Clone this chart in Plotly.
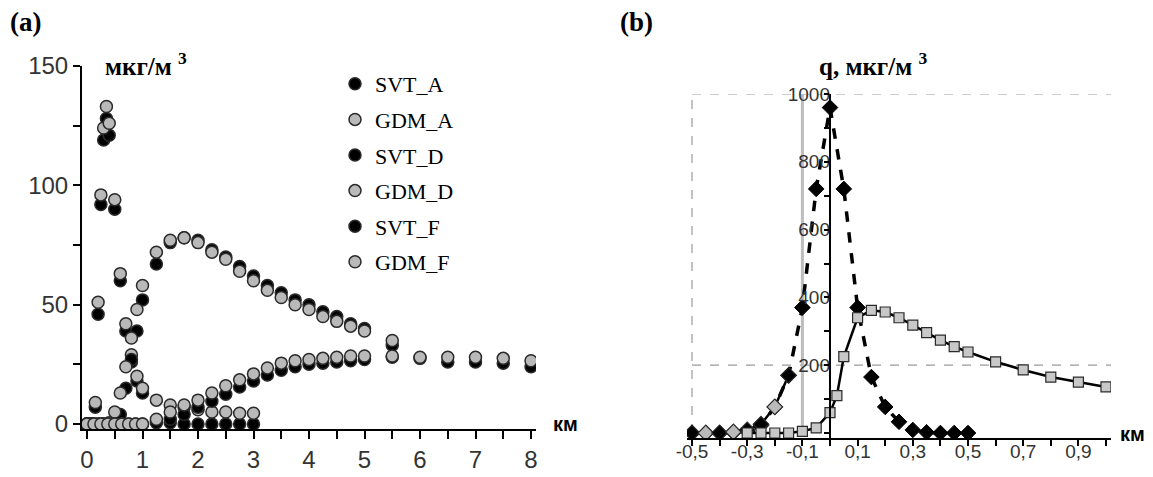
import plotly.graph_objects as go

# ---------------- Panel (a) data ----------------
x_A = [0, 0.05, 0.1, 0.15, 0.2, 0.25, 0.3, 0.35, 0.4, 0.5, 0.6, 0.7, 0.8, 0.9, 1.0,
       1.25, 1.5, 1.75, 2.0, 2.25, 2.5, 2.75, 3.0]
svt_A = [0, 0, 0, 7, 46, 92, 119, 128, 121, 90, 60, 39, 26, 18, 13,
         1, 0.5, 0, 0, 0, 0, 0, 0]
gdm_A = [0, 0, 0, 9, 51, 96, 124, 133, 126, 94, 63, 42, 29, 20, 15,
         10, 8, 7, 6, 5, 5, 4.5, 4.5]

x_D = [0, 0.1, 0.2, 0.3, 0.4, 0.5, 0.6, 0.7, 0.8, 0.9, 1.0, 1.25, 1.5, 1.75, 2.0,
       2.25, 2.5, 2.75, 3.0, 3.25, 3.5, 3.75, 4.0, 4.25, 4.5, 4.75, 5.0, 5.5]
svt_D = [0, 0, 0, 0, 0, 0.5, 4, 15, 27, 39, 52, 67, 76, 78, 77,
         73, 70, 66, 62, 58, 55, 52, 50, 47, 45, 42, 40, 33]
gdm_D = [0, 0, 0, 0, 0.5, 5, 13, 24, 36, 48, 58, 72, 77, 78, 76,
         72, 69, 64, 60, 56, 53, 50, 48, 45, 43, 41, 39, 35]

x_F = [0, 0.125, 0.25, 0.375, 0.5, 0.625, 0.75, 0.875, 1.0, 1.25, 1.5, 1.75, 2.0,
       2.25, 2.5, 2.75, 3.0, 3.25, 3.5, 3.75, 4.0, 4.25, 4.5, 4.75, 5.0,
       5.5, 6.0, 6.5, 7.0, 7.5, 8.0]
svt_F = [0, 0, 0, 0, 0, 0, 0, 0, 0, 0.5, 2, 4, 7,
         9.5, 12.5, 15.5, 18, 20.5, 22.5, 24, 25, 25.5, 26, 26.5, 27,
         28, 27.5, 26, 26, 25.5, 24]
gdm_F = [0, 0, 0, 0, 0, 0, 0, 0, 0, 2, 5, 8, 10,
         13, 16, 18.5, 21, 23.5, 25.5, 26.5, 27, 27.5, 28, 28.5, 28.5,
         28.5, 28, 28, 28, 27.5, 26.5]

series_a = [
    ("SVT_A", x_A, svt_A, "black"),
    ("GDM_A", x_A, gdm_A, "gray"),
    ("SVT_D", x_D, svt_D, "black"),
    ("GDM_D", x_D, gdm_D, "gray"),
    ("SVT_F", x_F, svt_F, "black"),
    ("GDM_F", x_F, gdm_F, "gray"),
]

xa_labels = {0: "0", 1: "1", 2: "2", 3: "3", 4: "4", 5: "5", 6: "6", 7: "7", 8: "8"}
ya_labels = {0: "0", 50: "50", 100: "100", 150: "150"}

# ---------------- Panel (b) data ----------------
xb_svt = [-0.5, -0.45, -0.4, -0.35, -0.3, -0.25, -0.2, -0.15, -0.1, -0.05, 0,
          0.05, 0.1, 0.15, 0.2, 0.25, 0.3, 0.35, 0.4, 0.45, 0.5]
qb_svt = [0, 0, 0, 2, 6, 22, 77, 170, 370, 720, 960,
          720, 370, 165, 77, 33, 9, 2, 0, 0, 0]

xb_left = [-0.5, -0.45, -0.4, -0.35, -0.3, -0.25, -0.2, -0.15]
qb_left = [0, 0, 0, 3, 9, 26, 77, 170]
left_is_gray = [False, True, False, True, False, False, True, False]

xb_gdm = [-0.3, -0.25, -0.2, -0.15, -0.1, -0.05, 0, 0.025, 0.05, 0.1, 0.15, 0.2,
          0.25, 0.3, 0.35, 0.4, 0.45, 0.5, 0.6, 0.7, 0.8, 0.9, 1.0]
qb_gdm = [0, 0, 0, 0, 5, 15, 60, 110, 225, 340, 362, 357,
          340, 318, 296, 274, 255, 239, 210, 186, 165, 150, 136]

xb_labels = {-0.5: "-0,5", -0.3: "-0,3", -0.1: "-0,1", 0.1: "0,1",
             0.3: "0,3", 0.5: "0,5", 0.7: "0,7", 0.9: "0,9"}
yb_labels = {200: "200", 400: "400", 600: "600", 800: "800", 1000: "1000"}


def tick_positions(start, stop, step):
    n = int(round((stop - start) / step))
    return [round(start + i * step, 3) for i in range(n + 1)]


def tick_texts(vals, labels):
    out = []
    for v in vals:
        t = ""
        for k, s in labels.items():
            if abs(k - v) < 1e-6:
                t = s
        out.append(t)
    return out


xa_tv = tick_positions(0, 8, 0.5)
ya_tv = tick_positions(0, 150, 25)
xb_tv = tick_positions(-0.5, 1.0, 0.1)
yb_tv = tick_positions(0, 1000, 100)

# ---------------- Layout geometry (pixels) ----------------
W, H = 1153, 477
def px(xp): return xp / W
def py(yp): return 1 - yp / H

PAD = 5  # px of room around the data area so markers lying on the axes stay whole

# panel (a): x 0..8 over pixels 87..531, y 0..150 over pixels 424..66
A_X0, A_X1, A_Y0, A_Y1 = 87, 531, 424, 66
a_xs = 8 / (A_X1 - A_X0)
a_ys = 150 / (A_Y0 - A_Y1)
XA_RANGE = [0 - PAD * a_xs, 8 + PAD * a_xs]
YA_RANGE = [0 - PAD * a_ys, 150]
XA_DOM = [px(A_X0 - PAD), px(A_X1 + PAD)]
YA_DOM = [py(A_Y0 + PAD), py(A_Y1)]

# panel (b): x -0.5..1.0 over pixels 692..1106, q 0..1000 over pixels 433..94
B_X0, B_X1, B_Y0, B_Y1 = 692, 1106, 433, 94
b_xs = 1.5 / (B_X1 - B_X0)
b_ys = 1000 / (B_Y0 - B_Y1)
XB_RANGE = [-0.5 - PAD * b_xs, 1.0 + PAD * b_xs]
YB_RANGE = [0 - PAD * b_ys, 1000]
XB_DOM = [px(B_X0 - PAD), px(B_X1 + PAD)]
YB_DOM = [py(B_Y0 + PAD), py(B_Y1)]
B_YAXIS_X = 830  # pixel column of the q axis (x = 0)

GRAY = "#b9b9b9"
EDGE = "#2a2a2a"

fig = go.Figure()

for name, xs, ys, col in series_a:
    fill = "black" if col == "black" else GRAY
    fig.add_trace(go.Scatter(
        x=xs, y=ys, mode="markers", name=name,
        marker=dict(size=12, color=fill, symbol="circle",
                    line=dict(color=EDGE, width=1.5)),
        xaxis="x", yaxis="y", legendgroup=name,
    ))

fig.add_trace(go.Scatter(
    x=xb_svt, y=qb_svt, mode="lines+markers", showlegend=False,
    line=dict(color="black", width=3.5, dash="dash"),
    marker=dict(symbol="diamond", size=12, color="black", line=dict(color="black", width=1)),
    xaxis="x2", yaxis="y2",
))
fig.add_trace(go.Scatter(
    x=xb_left, y=qb_left, mode="lines+markers", showlegend=False,
    line=dict(color="black", width=2.5),
    marker=dict(symbol="diamond", size=12,
                color=[GRAY if g else "black" for g in left_is_gray],
                line=dict(color=EDGE, width=1.2)),
    xaxis="x2", yaxis="y2",
))
fig.add_trace(go.Scatter(
    x=xb_gdm, y=qb_gdm, mode="lines+markers", showlegend=False,
    line=dict(color="black", width=2.5),
    marker=dict(symbol="square", size=10, color="#c8c8c8", line=dict(color=EDGE, width=1.2)),
    xaxis="x4", yaxis="y4",
))

tickfont_a = dict(family="Liberation Sans, Arial, sans-serif", size=24, color="#333")
tickfont_b = dict(family="Liberation Sans, Arial, sans-serif", size=19, color="#333")

fig.update_layout(
    width=W, height=H, margin=dict(l=0, r=0, t=0, b=0, autoexpand=False),
    paper_bgcolor="white", plot_bgcolor="white",
    showlegend=True,
    legend=dict(x=px(335), y=py(63), xanchor="left", yanchor="top",
                font=dict(family="Liberation Serif, Times New Roman, serif", size=22, color="black"),
                bgcolor="rgba(0,0,0,0)", itemwidth=30, tracegroupgap=4),
    # panel (a): one axis pair carries line, ticks and labels
    xaxis=dict(domain=XA_DOM, range=XA_RANGE, anchor="y",
               tickmode="array", tickvals=xa_tv, ticktext=tick_texts(xa_tv, xa_labels),
               ticks="outside", ticklen=8, tickwidth=2, tickcolor="black",
               showline=True, linecolor="black", linewidth=2,
               showgrid=False, zeroline=False, tickfont=tickfont_a),
    yaxis=dict(domain=YA_DOM, range=YA_RANGE, anchor="x",
               tickmode="array", tickvals=ya_tv, ticktext=tick_texts(ya_tv, ya_labels),
               ticks="outside", ticklen=7, tickwidth=2, tickcolor="black",
               showline=True, linecolor="black", linewidth=2,
               showgrid=False, zeroline=False, tickfont=tickfont_a),
    # panel (b): base axes carry labels, overlay axes carry line and ticks
    xaxis2=dict(domain=XB_DOM, range=XB_RANGE, anchor="y2",
                tickmode="array", tickvals=list(xb_labels.keys()), ticktext=list(xb_labels.values()),
                ticks="", showline=False, showgrid=False, zeroline=False,
                tickfont=tickfont_b),
    yaxis2=dict(domain=YB_DOM, range=YB_RANGE, anchor="free", position=px(B_YAXIS_X),
                tickmode="array", tickvals=list(yb_labels.keys()), ticktext=list(yb_labels.values()),
                ticks="", showline=False, showgrid=False, zeroline=False,
                tickfont=tickfont_b),
    xaxis4=dict(overlaying="x2", anchor="y4", range=XB_RANGE,
                tickmode="array", tickvals=xb_tv, showticklabels=False,
                ticks="outside", ticklen=6, tickwidth=2, tickcolor="black",
                showline=True, linecolor="black", linewidth=2,
                showgrid=False, zeroline=False),
    yaxis4=dict(overlaying="y2", anchor="free", position=px(B_YAXIS_X), range=YB_RANGE,
                tickmode="array", tickvals=yb_tv, showticklabels=False,
                ticks="outside", ticklen=5, tickwidth=2, tickcolor="black",
                showline=True, linecolor="black", linewidth=2,
                showgrid=False, zeroline=False),
)

# gridlines of panel (b)
grid_dash = dict(color="#9a9a9a", width=1.2, dash="dash")
fig.add_shape(type="line", xref="x2", yref="y2", x0=-0.5, x1=-0.5, y0=0, y1=1000, line=grid_dash, layer="below")
fig.add_shape(type="line", xref="x2", yref="y2", x0=-0.5, x1=1.04, y0=1000, y1=1000, line=grid_dash, layer="below")
fig.add_shape(type="line", xref="x2", yref="y2", x0=-0.5, x1=1.04, y0=200, y1=200, line=grid_dash, layer="below")
fig.add_shape(type="line", xref="x2", yref="y2", x0=-0.1, x1=-0.1, y0=0, y1=1000,
              line=dict(color="#bdbdbd", width=3), layer="below")

serif_b = "Liberation Serif, Times New Roman, serif"
sans_b = "Liberation Sans, Arial, sans-serif"

fig.add_annotation(text="<b>(a)</b>", x=px(8), y=py(22), xref="paper", yref="paper",
                   xanchor="left", yanchor="middle", showarrow=False,
                   font=dict(family=serif_b, size=27, color="black"))
fig.add_annotation(text="<b>(b)</b>", x=px(618), y=py(22), xref="paper", yref="paper",
                   xanchor="left", yanchor="middle", showarrow=False,
                   font=dict(family=serif_b, size=27, color="black"))
fig.add_annotation(text="<b>мкг/м <sup>3</sup></b>", x=px(103), y=py(64), xref="paper", yref="paper",
                   xanchor="left", yanchor="middle", showarrow=False,
                   font=dict(family=serif_b, size=25, color="black"))
fig.add_annotation(text="<b>q, мкг/м <sup>3</sup></b>", x=px(817), y=py(64), xref="paper", yref="paper",
                   xanchor="left", yanchor="middle", showarrow=False,
                   font=dict(family=serif_b, size=25, color="black"))
fig.add_annotation(text="<b>км</b>", x=px(551), y=py(424), xref="paper", yref="paper",
                   xanchor="left", yanchor="middle", showarrow=False,
                   font=dict(family=sans_b, size=20, color="black"))
fig.add_annotation(text="<b>км</b>", x=px(1118), y=py(434), xref="paper", yref="paper",
                   xanchor="left", yanchor="middle", showarrow=False,
                   font=dict(family=sans_b, size=20, color="black"))

fig.write_html("out.html", config={"displayModeBar": False},
               post_script="document.body.style.margin='0px';document.body.style.overflow='hidden';")
